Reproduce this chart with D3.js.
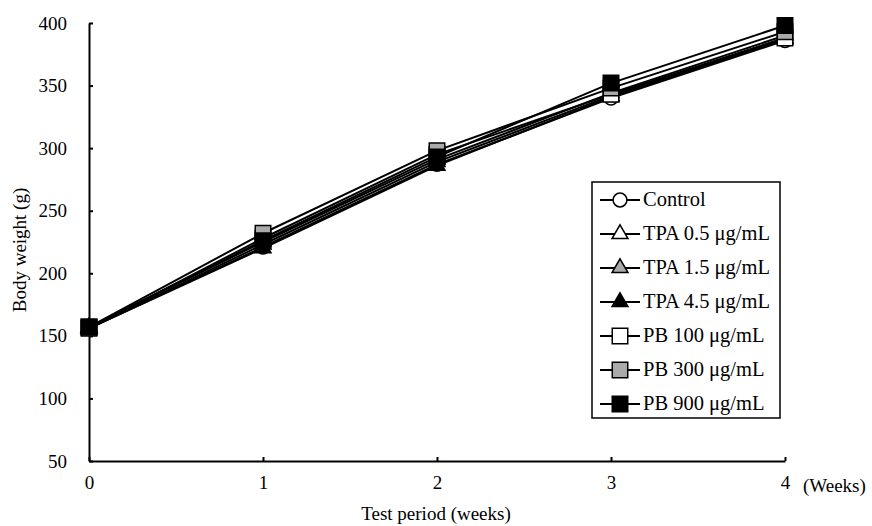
<!DOCTYPE html>
<html><head><meta charset="utf-8">
<script src="https://cdn.jsdelivr.net/npm/d3@7"></script>
<style>body{margin:0;background:#fff}svg{display:block}</style>
</head><body><svg id="c" width="872" height="526"></svg>
<script>
const weeks = [0, 1, 2, 3, 4];
const yTicks = [50, 100, 150, 200, 250, 300, 350, 400];
const seriesNames = ["Control", "TPA 0.5 \u03bcg/mL", "TPA 1.5 \u03bcg/mL", "TPA 4.5 \u03bcg/mL", "PB 100 \u03bcg/mL", "PB 300 \u03bcg/mL", "PB 900 \u03bcg/mL"];
const control = [156, 221, 287, 340, 386];
const tpa05 = [156, 223, 289, 342, 388];
const tpa15 = [157, 225, 291, 344, 390];
const tpa45 = [156, 220, 286, 341, 387];
const pb100 = [156, 228, 295, 343, 388];
const pb300 = [157, 232, 298, 348, 393];
const pb900 = [157, 226, 293, 352, 398];
const seriesValues = [control, tpa05, tpa15, tpa45, pb100, pb300, pb900];
const shapes = ["circle", "triangle", "triangle", "triangle", "square", "square", "square"];
const fills = ["#fff", "#fff", "#aaa", "#000", "#fff", "#aaa", "#000"];
const FONT = "Liberation Serif";

const svg = d3.select("#c");
const x = d3.scaleLinear().domain([0, 4]).range([89, 785]);
const y = d3.scaleLinear().domain([50, 400]).range([461, 23]);

const gx = svg.append("g").attr("transform", "translate(0,461)")
  .call(d3.axisBottom(x).tickValues(weeks).tickSize(-4).tickPadding(12).tickSizeOuter(0).tickFormat(d3.format("d")));
const gy = svg.append("g").attr("transform", "translate(89,0)")
  .call(d3.axisLeft(y).tickValues(yTicks).tickSize(-4).tickPadding(22).tickSizeOuter(0));
[gx, gy].forEach(g => {
  g.attr("font-family", FONT);
  g.select(".domain").attr("stroke", "#000").attr("stroke-width", 2);
  g.selectAll(".tick line").attr("stroke", "#000").attr("stroke-width", 2);
  g.selectAll(".tick text").attr("font-size", 19).attr("fill", "#000").attr("font-family", FONT);
});
gx.selectAll(".tick text").attr("dy", "0.85em");

svg.append("text").attr("x", 803).attr("y", 492).attr("font-size", 19).attr("font-family", FONT).text("(Weeks)");
svg.append("text").attr("x", 436).attr("y", 520).attr("text-anchor", "middle").attr("font-size", 19).attr("font-family", FONT).text("Test period (weeks)");
svg.append("text").attr("transform", "translate(26,250) rotate(-90)").attr("text-anchor", "middle").attr("font-size", 19).attr("font-family", FONT).text("Body weight (g)");

const sym = s => s === "circle" ? d3.symbol(d3.symbolCircle, 150)() :
  s === "triangle" ? d3.symbol(d3.symbolTriangle, 110)() : d3.symbol(d3.symbolSquare, 240)();

const line = d3.line().x((d, i) => x(weeks[i])).y(d => y(d));
seriesValues.forEach((vals, k) => {
  const g = svg.append("g");
  g.append("path").attr("d", line(vals)).attr("fill", "none").attr("stroke", "#000").attr("stroke-width", 2);
  g.selectAll("path.m").data(vals).join("path").attr("class", "m")
    .attr("transform", (d, i) => `translate(${x(weeks[i])},${y(d)})`)
    .attr("d", sym(shapes[k])).attr("fill", fills[k]).attr("stroke", "#000").attr("stroke-width", 1.5);
});

const lg = svg.append("g");
lg.append("rect").attr("x", 592).attr("y", 182).attr("width", 188).attr("height", 236)
  .attr("fill", "#fff").attr("stroke", "#000").attr("stroke-width", 1.5);
seriesNames.forEach((name, k) => {
  const cy = 200 + k * 34;
  lg.append("line").attr("x1", 600).attr("x2", 640).attr("y1", cy).attr("y2", cy).attr("stroke", "#000").attr("stroke-width", 2);
  lg.append("path").attr("transform", `translate(620,${cy})`).attr("d", sym(shapes[k])).attr("fill", fills[k]).attr("stroke", "#000").attr("stroke-width", 1.5);
  lg.append("text").attr("x", 643).attr("y", cy + 6).attr("font-size", 20.5).attr("font-family", FONT).text(name);
});
</script></body></html>
